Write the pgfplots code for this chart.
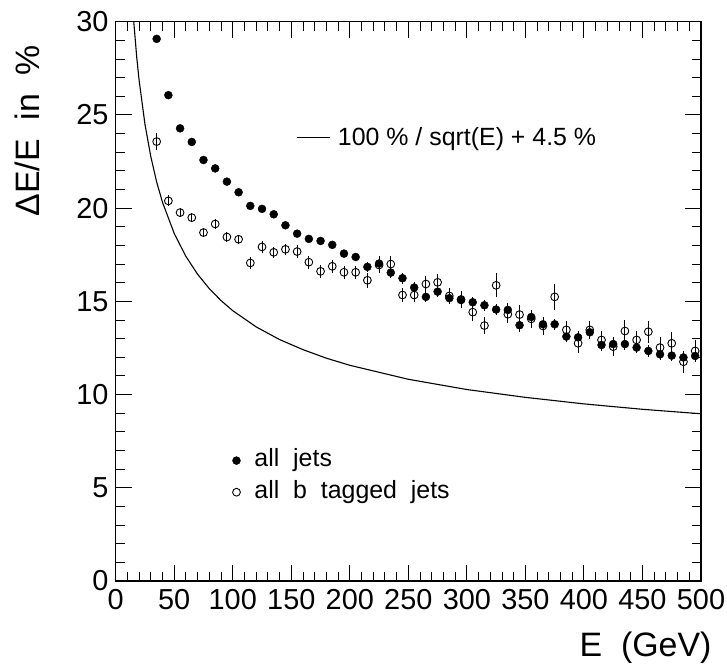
\documentclass[border=0pt]{standalone}
\usepackage{fontspec}
\setmainfont{Liberation Sans}
\usepackage{pgfplots}
\pgfplotsset{compat=1.18}
\usepackage{pgfplotstable}

% all jets: E, resolution, error
\pgfplotstableread{
E dE err
35 29.08 0.10
45 26.06 0.10
55 24.28 0.10
65 23.55 0.10
75 22.58 0.10
85 22.13 0.10
95 21.42 0.10
105 20.85 0.10
115 20.12 0.10
125 19.96 0.10
135 19.67 0.10
145 19.08 0.10
155 18.63 0.10
165 18.35 0.10
175 18.24 0.15
185 18.03 0.15
195 17.56 0.15
205 17.38 0.20
215 16.85 0.25
225 17.03 0.40
235 16.54 0.30
245 16.24 0.30
255 15.74 0.30
265 15.24 0.30
275 15.52 0.30
285 15.17 0.30
295 15.07 0.35
305 14.95 0.30
315 14.79 0.30
325 14.56 0.30
335 14.54 0.35
345 13.72 0.35
355 14.16 0.35
365 13.77 0.35
375 13.77 0.30
385 13.11 0.30
395 13.07 0.35
405 13.34 0.35
415 12.66 0.30
425 12.71 0.30
435 12.71 0.30
445 12.52 0.30
455 12.34 0.30
465 12.16 0.30
475 12.09 0.30
485 11.99 0.35
495 12.07 0.35
}\alljets

% all b tagged jets
\pgfplotstableread{
E dE err
35 23.57 0.45
45 20.39 0.30
55 19.76 0.25
65 19.49 0.25
75 18.69 0.25
85 19.15 0.25
95 18.45 0.25
105 18.33 0.25
115 17.06 0.30
125 17.92 0.30
135 17.63 0.30
145 17.79 0.30
155 17.67 0.35
165 17.10 0.35
175 16.61 0.35
185 16.88 0.35
195 16.56 0.35
205 16.56 0.35
215 16.13 0.40
225 16.95 0.45
235 17.00 0.45
245 15.34 0.40
255 15.34 0.40
265 15.93 0.45
275 16.02 0.45
285 15.29 0.45
295 15.10 0.45
305 14.42 0.45
315 13.70 0.45
325 15.86 0.65
335 14.31 0.45
345 14.29 0.50
355 14.06 0.50
365 13.68 0.50
375 15.24 0.70
385 13.47 0.45
395 12.75 0.50
405 13.47 0.50
415 12.93 0.50
425 12.57 0.50
435 13.41 0.60
445 12.93 0.50
455 13.37 0.60
465 12.52 0.55
475 12.75 0.60
485 11.76 0.60
495 12.34 0.60
}\btagged

% reference curve 100%/sqrt(E)+4.5%
\pgfplotstableread{
E res
10 36.12
12 33.37
15 30.32
18 28.07
20 26.86
25 24.50
30 22.76
35 21.40
40 20.31
50 18.64
60 17.41
70 16.45
80 15.68
90 15.04
100 14.50
120 13.63
140 12.95
160 12.41
180 11.95
200 11.57
250 10.82
300 10.27
350 9.85
400 9.50
450 9.21
500 8.97
}\curve

\begin{document}
\begin{tikzpicture}
\begin{axis}[
    scale only axis,
    width=585.3bp, height=559.3bp,
    xmin=0, xmax=500, ymin=0, ymax=30,
    xtick={0,50,...,500}, ytick={0,5,...,30},
    minor x tick num=4, minor y tick num=4,
    tick align=inside, tick pos=both,
    major tick length=16bp, minor tick length=9bp,
    axis line style={line width=1.2bp},
    every tick/.style={black, line width=0.9bp},
    ticklabel style={font=\fontsize{29}{34}\selectfont},
    /pgf/number format/assume math mode=true,
    xticklabel style={inner sep=0pt, yshift=-8bp},
    yticklabel style={inner sep=0pt, xshift=-7bp},
    xlabel={E~~(GeV)}, ylabel={ΔE/E~~in~~\%},
    label style={font=\fontsize{34}{40}\selectfont, inner sep=0pt},
    xlabel style={at={(axis cs:509.1,-4.06)}, anchor=base east},
    ylabel style={at={(axis cs:-64.7,28.76)}, anchor=base east},
    error bars/error bar style={line width=0.9bp, black},
    error bars/error mark=none,
    legend style={draw=none, fill=none, inner sep=0pt,
        at={(axis cs:99.6,5.61)}, anchor=west,
        font=\fontsize{25}{30}\selectfont, row sep=0pt,
        nodes={text height=18bp, text depth=6bp, inner sep=3.8bp}},
    legend cell align=left,
    reverse legend,
    legend image code/.code={%
        \path (0bp,0bp) (14bp,0bp);
        \draw[mark repeat=1,#1] plot coordinates {(0bp,0bp)};},
]
\addplot[black, line width=1.1bp, mark=none, forget plot] table[x=E, y=res] {\curve};
\addplot[only marks, mark=o, mark size=3.9bp,
    mark options={fill=white, line width=0.9bp},
    error bars/.cd, y dir=both, y explicit]
    table[x=E, y=dE, y error=err] {\btagged};
\addplot[only marks, mark=*, mark size=4bp,
    error bars/.cd, y dir=both, y explicit]
    table[x=E, y=dE, y error=err] {\alljets};
\legend{all~~b~~tagged~~jets, all~~jets}
\coordinate (sw) at (rel axis cs:0,0);
\coordinate (ne) at (rel axis cs:1,1);
\end{axis}
\begin{axis}[
    scale only axis,
    width=585.3bp, height=559.3bp,
    xmin=0, xmax=500, ymin=0, ymax=30,
    hide axis,
    legend style={draw=none, fill=none, inner sep=0pt,
        at={(axis cs:154.6,23.8)}, anchor=west,
        font=\fontsize{25}{30}\selectfont},
    legend image code/.code={\path (0bp,0bp) (38bp,0bp); \draw[#1] (0bp,0bp) -- (33bp,0bp);},
]
\addlegendimage{black, line width=1.1bp}
\addlegendentry{100 \% / sqrt(E) + 4.5 \%}
\end{axis}
\pgfresetboundingbox
\path ([shift={(-115.7bp,-88bp)}]sw) rectangle ([shift={(26bp,21.7bp)}]ne);
\end{tikzpicture}
\end{document}
